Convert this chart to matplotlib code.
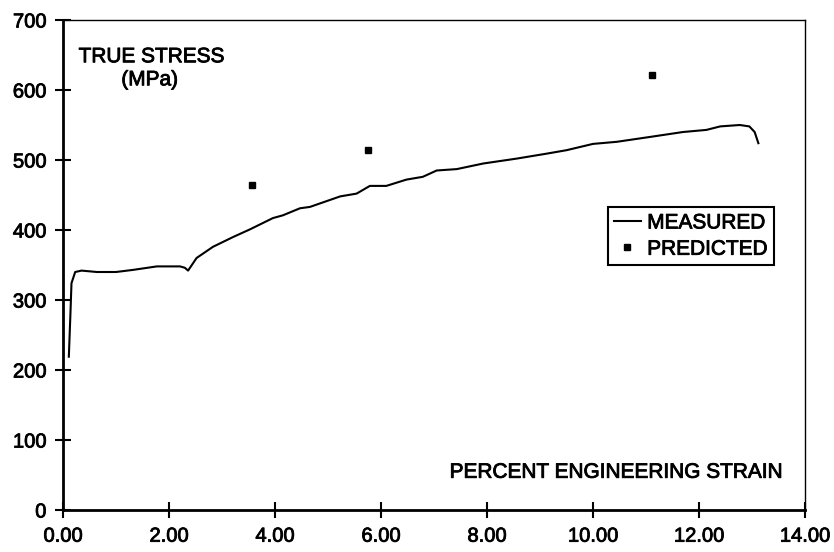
import matplotlib
matplotlib.use("Agg")
from matplotlib import pyplot as plt
from matplotlib import patheffects as pe

plt.rcParams['font.family'] = ['Liberation Sans', 'DejaVu Sans']

# measured true stress vs percent engineering strain
strain_measured = [0.11, 0.14, 0.16, 0.23, 0.35, 0.64, 1.0, 1.32, 1.77, 2.21, 2.30, 2.36,
                   2.52, 2.83, 3.21, 3.53, 3.96, 4.15, 4.47, 4.66, 5.23, 5.54, 5.79, 6.10,
                   6.48, 6.79, 7.05, 7.43, 7.93, 8.56, 9.12, 9.50, 10.00, 10.45, 11.08,
                   11.70, 12.14, 12.40, 12.77, 12.95, 13.05, 13.12]
stress_measured = [219, 280, 324, 340, 342, 340, 340, 343, 348, 348, 346, 342,
                   360, 376, 390, 401, 417, 421, 431, 433, 448, 452, 463, 463,
                   472, 476, 485, 487, 495, 502, 509, 514, 523, 526, 533,
                   540, 543, 548, 550, 548, 540, 524]

strain_predicted = [3.57, 5.75, 11.11]
stress_predicted = [464, 514, 622]

x_ticks = [0, 2, 4, 6, 8, 10, 12, 14]
y_ticks = [0, 100, 200, 300, 400, 500, 600, 700]

heavy = [pe.withStroke(linewidth=0.6, foreground='black')]

fig = plt.figure(figsize=(8.34, 5.52), dpi=100)
ax = fig.add_axes([63 / 834, 1 - 510 / 552, 742 / 834, 490 / 552])

ax.plot(strain_measured, stress_measured, color='black', lw=1.5, label='MEASURED')
ax.plot(strain_predicted, stress_predicted, ls='none', marker='s', ms=5,
        color='black', label='PREDICTED')

ax.set_xlim(0, 14)
ax.set_ylim(0, 700)
ax.set_xticks(x_ticks)
ax.set_xticklabels(['%.2f' % v for v in x_ticks])
ax.set_yticks(y_ticks)

ax.tick_params(axis='both', direction='inout', length=12, width=1.5,
               labelsize=14.5, colors='black', pad=6)
for lab in ax.get_xticklabels() + ax.get_yticklabels():
    lab.set_path_effects(heavy)

for side in ['left', 'bottom']:
    ax.spines[side].set_linewidth(2)
for side in ['top', 'right']:
    ax.spines[side].set_linewidth(1)

ax.text(0.021, 0.925, 'TRUE STRESS', transform=ax.transAxes, fontsize=15,
        ha='left', va='center', path_effects=heavy)
ax.text(0.117, 0.878, '(MPa)', transform=ax.transAxes, fontsize=15,
        ha='center', va='center', path_effects=heavy)
ax.text(0.972, 0.077, 'PERCENT ENGINEERING STRAIN', transform=ax.transAxes,
        fontsize=15, ha='right', va='center', path_effects=heavy)

leg = ax.legend(loc='upper left', bbox_to_anchor=(0.734, 0.618), fontsize=15,
                frameon=True, fancybox=False, shadow=False, framealpha=1,
                edgecolor='black', handlelength=1.3, handletextpad=0.3,
                borderpad=0.3, labelspacing=0.35, borderaxespad=0)
leg.get_frame().set_linewidth(1.5)
for t in leg.get_texts():
    t.set_path_effects(heavy)

fig.savefig('out.png', dpi=100)
